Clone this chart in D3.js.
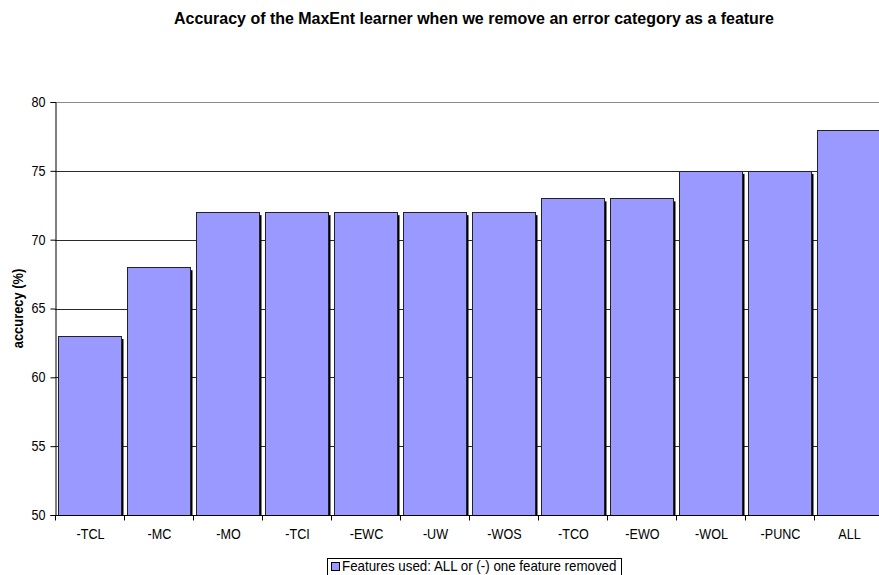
<!DOCTYPE html>
<html>
<head>
<meta charset="utf-8">
<script src="https://cdnjs.cloudflare.com/ajax/libs/d3/7.8.5/d3.min.js"></script>
<style>
  html, body { margin: 0; padding: 0; background: #fff; overflow: hidden; }
  svg { display: block; font-family: "Liberation Sans", Arial, sans-serif; }
</style>
</head>
<body>
<svg id="chart" width="879" height="575"></svg>
<script>
// Feature ablation results for the MaxEnt learner
const categories = ["-TCL", "-MC", "-MO", "-TCI", "-EWC", "-UW", "-WOS", "-TCO", "-EWO", "-WOL", "-PUNC", "ALL"];
const accuracy = [63, 68, 72, 72, 72, 72, 72, 73, 73, 75, 75, 78];
const yTicks = [50, 55, 60, 65, 70, 75, 80];
const titleText = "Accuracy of the MaxEnt learner when we remove an error category as a feature";
const yLabel = "accurecy (%)";
const legendLabel = "Features used: ALL or (-) one feature removed";

const svg = d3.select("#chart");
const W = 879, H = 575;
const plot = { left: 55, right: 883, top: 102, bottom: 515 };

const x = d3.scaleBand()
  .domain(categories)
  .range([plot.left, plot.right])
  .paddingInner(0.087)
  .paddingOuter(0.0435);

const y = d3.scaleLinear().domain([50, 80]).range([plot.bottom, plot.top]);

// Narrow, tall lettering: place text then squeeze it horizontally
function condensed(sel, px, py, sx) {
  return sel.attr("transform", `translate(${px},${py}) scale(${sx},1)`);
}

svg.append("defs").append("clipPath").attr("id", "plotClip")
  .append("rect")
  .attr("x", plot.left).attr("y", plot.top - 2)
  .attr("width", W - plot.left).attr("height", plot.bottom - plot.top + 2);

// Horizontal gridlines
const grid = svg.append("g");
grid.selectAll("line")
  .data(yTicks.filter(t => t > 50))
  .join("line")
  .attr("x1", plot.left).attr("x2", W)
  .attr("y1", d => Math.round(y(d)) + 0.5).attr("y2", d => Math.round(y(d)) + 0.5)
  .attr("stroke", d => d === 80 ? "#8a8a8a" : "#2a2a2a")
  .attr("stroke-width", 1);

// Bars with drop shadows
const data = categories.map((c, i) => ({ c, v: accuracy[i] }));
const bars = svg.append("g").attr("clip-path", "url(#plotClip)");
bars.selectAll("rect.shadow")
  .data(data)
  .join("rect")
  .attr("class", "shadow")
  .attr("x", d => x(d.c) + 2.5)
  .attr("y", d => y(d.v) + 3)
  .attr("width", x.bandwidth())
  .attr("height", d => plot.bottom - y(d.v))
  .attr("fill", "#000");

bars.selectAll("rect.bar")
  .data(data)
  .join("rect")
  .attr("class", "bar")
  .attr("x", d => Math.round(x(d.c)) + 0.5)
  .attr("y", d => Math.round(y(d.v)) + 0.5)
  .attr("width", x.bandwidth())
  .attr("height", d => plot.bottom - Math.round(y(d.v)))
  .attr("fill", "#9999ff")
  .attr("stroke", "#222")
  .attr("stroke-width", 1);

// Y axis
const yAxis = d3.axisLeft(y).tickValues(yTicks).tickSize(5).tickPadding(6);
const yg = svg.append("g").attr("transform", `translate(${plot.left + 0.5},0)`).call(yAxis);
yg.select(".domain").attr("stroke", "#000");
yg.selectAll(".tick line").attr("stroke", "#000");
yg.selectAll(".tick text")
  .attr("font-size", 14).attr("fill", "#000")
  .attr("font-family", "'Liberation Sans', Arial, sans-serif")
  .attr("transform", "scale(0.9,1)");

// X axis: ticks sit on the category boundaries
const xg = svg.append("g").attr("transform", `translate(0,${plot.bottom + 0.5})`);
xg.append("line")
  .attr("x1", plot.left).attr("x2", W)
  .attr("stroke", "#000");
const step = x.step();
const boundaries = d3.range(categories.length + 1).map(i => plot.left + i * step);
xg.selectAll("line.tk")
  .data(boundaries)
  .join("line")
  .attr("class", "tk")
  .attr("x1", d => Math.round(d) + 0.5).attr("x2", d => Math.round(d) + 0.5)
  .attr("y1", 0).attr("y2", 5)
  .attr("stroke", "#000");
xg.selectAll("text")
  .data(categories)
  .join("text")
  .attr("text-anchor", "middle")
  .attr("font-size", 15)
  .each(function (d) {
    condensed(d3.select(this), x(d) + x.bandwidth() / 2 + 1, 23, 0.84);
  })
  .text(d => d);

// Title
condensed(svg.append("text"), 474, 24, 0.94)
  .attr("text-anchor", "middle")
  .attr("font-size", 17)
  .attr("font-weight", "bold")
  .text(titleText);

// Y axis label
svg.append("text")
  .attr("transform", `translate(23,${(plot.top + plot.bottom) / 2}) rotate(-90) scale(0.92,1)`)
  .attr("text-anchor", "middle")
  .attr("font-size", 14)
  .attr("font-weight", "bold")
  .text(yLabel);

// Legend (its frame runs past the lower edge of the page)
const lg = svg.append("g");
lg.append("rect")
  .attr("x", 327.5).attr("y", 558.5)
  .attr("width", 294).attr("height", 22)
  .attr("fill", "#fff").attr("stroke", "#000");
lg.append("rect")
  .attr("x", 331.5).attr("y", 562.5)
  .attr("width", 8).attr("height", 8)
  .attr("fill", "#9999ff").attr("stroke", "#000");
condensed(lg.append("text"), 342, 571, 0.92)
  .attr("font-size", 14.5)
  .text(legendLabel);
</script>
</body>
</html>
